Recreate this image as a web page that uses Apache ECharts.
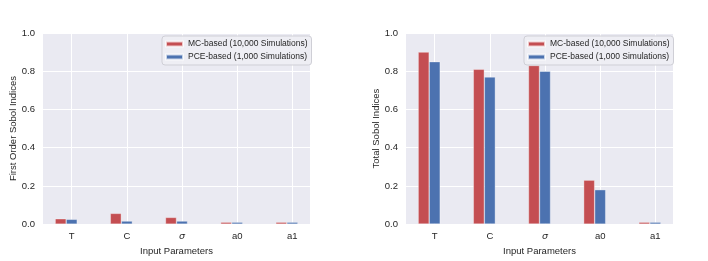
<!DOCTYPE html>
<html>
<head>
<meta charset="utf-8">
<script src="https://cdn.jsdelivr.net/npm/echarts@6/dist/echarts.min.js"></script>
<style>html,body{margin:0;padding:0;background:#fff;}#chart{width:708px;height:261px;}</style>
</head>
<body>
<div id="chart"></div>
<script>
// ---- data ----
const categories = ['T', 'C', 'σ', 'a0', 'a1'];
const firstOrderMC  = [0.028, 0.056, 0.035, 0.01, 0.01];
const firstOrderPCE = [0.025, 0.016, 0.016, 0.01, 0.01];
const totalMC  = [0.90, 0.81, 0.83, 0.23, 0.01];
const totalPCE = [0.85, 0.77, 0.80, 0.18, 0.01];
const yTicks = [0, 0.2, 0.4, 0.6, 0.8, 1.0];
const seriesNames = ['MC-based (10,000 Simulations)', 'PCE-based (1,000 Simulations)'];

const RED = '#c44e52', BLUE = '#4c72b0';
const FONT = 'Liberation Sans, Arial, Helvetica, sans-serif';
const TXT = '#262626';
const catIdx = categories.map((_, i) => i);
// bar positions: MC bar shifted one bar-width left of the category, PCE at the category
const OFFSET = 0.2;
function pts(vals, shift) { return vals.map((v, i) => [i + shift, v]); }

function xAxis(gi) {
  return {
    type: 'value', gridIndex: gi, min: -0.52, max: 4.32,
    name: 'Input Parameters', nameLocation: 'middle', nameGap: 17,
    nameTextStyle: { fontFamily: FONT, fontSize: 9.5, color: TXT },
    axisLine: { show: false },
    axisTick: { show: false, customValues: catIdx },
    splitLine: { show: true, lineStyle: { color: '#ffffff', width: 1 } },
    axisLabel: {
      customValues: catIdx, margin: 7,
      fontFamily: FONT, fontSize: 9.5, color: TXT,
      formatter: v => { const c = categories[Math.round(v)]; return c === 'σ' ? '{it|σ}' : c; },
      rich: { it: { fontStyle: 'italic', fontFamily: 'DejaVu Sans', fontSize: 9.5, color: TXT } }
    }
  };
}
function yAxis(gi, name) {
  return {
    type: 'value', gridIndex: gi, min: 0, max: 1, interval: 0.2,
    name: name, nameLocation: 'middle', nameGap: 24,
    nameTextStyle: { fontFamily: FONT, fontSize: 9.5, color: TXT },
    axisLine: { show: false }, axisTick: { show: false },
    splitLine: { show: true, lineStyle: { color: '#ffffff', width: 1 } },
    axisLabel: { margin: 8, fontFamily: FONT, fontSize: 9.5, color: TXT, formatter: v => v.toFixed(1) }
  };
}
function bar(name, vals, shift, color, gi) {
  return {
    type: 'bar', name: name, xAxisIndex: gi, yAxisIndex: gi,
    data: pts(vals, shift), barWidth: 11, barGap: '-100%',
    itemStyle: { color: color, borderColor: 'rgba(255,255,255,0.7)', borderWidth: 0.5 },
    emphasis: { disabled: true }
  };
}
function legend(left) {
  return {
    orient: 'vertical', left: left, top: 36,
    data: seriesNames,
    itemWidth: 17, itemHeight: 5, itemGap: 3,
    padding: [3, 4, 3, 3],
    backgroundColor: 'rgba(238,238,244,0.9)', borderColor: '#cfcfd6', borderWidth: 1, borderRadius: 3,
    textStyle: { fontFamily: FONT, fontSize: 8.5, color: TXT, lineHeight: 10 },
    icon: 'rect'
  };
}

const chart = echarts.init(document.getElementById('chart'), null, { renderer: 'canvas' });
chart.setOption({
  animation: false,
  backgroundColor: '#ffffff',
  grid: [
    { left: 43, top: 33, width: 267, height: 198, show: true, backgroundColor: '#eaeaf2', borderWidth: 0 },
    { left: 406, top: 33, width: 267, height: 198, show: true, backgroundColor: '#eaeaf2', borderWidth: 0 }
  ],
  xAxis: [xAxis(0), xAxis(1)],
  yAxis: [yAxis(0, 'First Order Sobol Indices'), yAxis(1, 'Total Sobol Indices')],
  legend: [legend(162), legend(524)],
  series: [
    bar(seriesNames[0], firstOrderMC, -OFFSET, RED, 0),
    bar(seriesNames[1], firstOrderPCE, 0, BLUE, 0),
    bar(seriesNames[0], totalMC, -OFFSET, RED, 1),
    bar(seriesNames[1], totalPCE, 0, BLUE, 1)
  ]
});
</script>
</body>
</html>
